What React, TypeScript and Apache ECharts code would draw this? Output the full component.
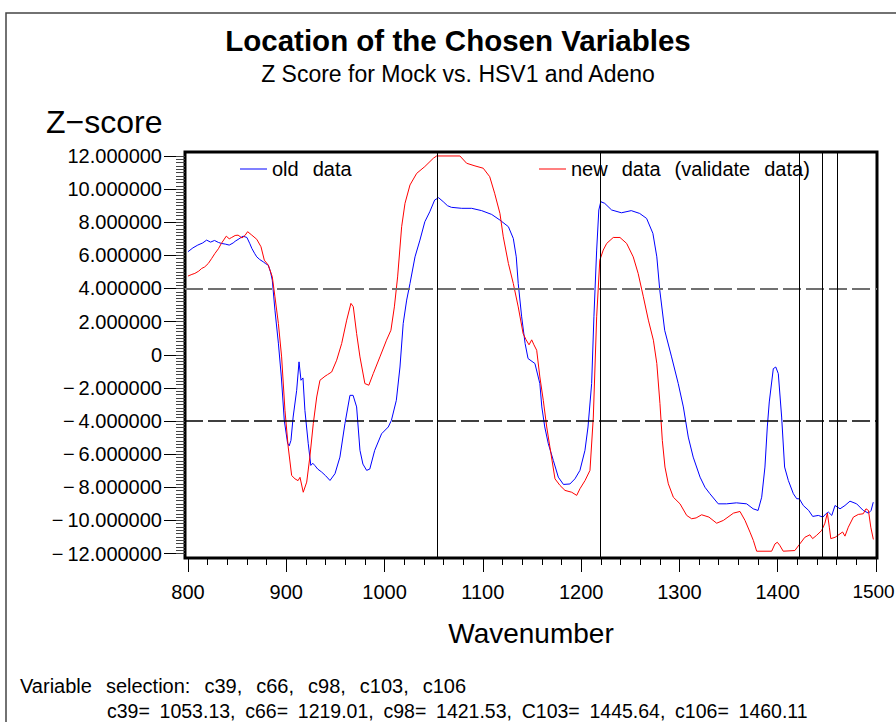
import React, { useEffect, useRef } from "react";
import * as echarts from "echarts";

// ---- data ----
const oldWave = [
  800, 805, 810, 815, 819, 823, 827, 831, 834, 838, 842, 846, 848, 852, 856, 860, 863, 865, 868, 870,
  873, 876.6, 879, 881.7, 884, 885.8, 888.5, 892, 895, 898, 901.4, 903, 904.8, 907, 910.6, 913, 915, 917,
  919, 922.4, 925, 927, 929, 932, 936, 940, 944.5, 949.6, 954.6, 959.7, 964.8, 968, 971.6, 975, 978,
  981.8, 985, 990, 997, 1003.8, 1007, 1012, 1015.7, 1019, 1022.5, 1025.9, 1031, 1036, 1041, 1046, 1051,
  1055, 1059.7, 1064, 1068, 1078.5, 1088.6, 1098.8, 1109, 1117.4, 1126, 1131, 1134, 1136, 1139.5, 1143,
  1146, 1153, 1158, 1160, 1163, 1166.6, 1171.7, 1176.8, 1182, 1188.6, 1193.7, 1198.8, 1203.9, 1207,
  1210.7, 1213, 1215.8, 1218, 1220, 1224, 1231, 1241, 1251, 1259.6, 1266.6, 1273, 1277, 1280, 1285, 1292,
  1298.8, 1304, 1309, 1314, 1321, 1326, 1331, 1339.5, 1348, 1358, 1368.4, 1375, 1380, 1383.7, 1387,
  1389.4, 1391.4, 1395.5, 1398, 1400.6, 1404, 1407, 1410.8, 1415.9, 1419.3, 1422, 1426, 1431.5, 1435.6,
  1441.3, 1446, 1449, 1451.6, 1455, 1458.3, 1463.4, 1468.4, 1473.5, 1480.3, 1487, 1492.3, 1495, 1497.2,
];
const oldZ = [
  6.22, 6.45, 6.62, 6.75, 6.92, 6.8, 6.9, 6.78, 6.72, 6.68, 6.62, 6.75, 6.85, 7.0, 7.16, 7.08, 6.7, 6.42, 6.1, 5.91,
  5.75, 5.61, 5.5, 5.41, 5.0, 4.5, 2.69, 0.7, -1.34, -3.96, -5.35, -5.5, -5.17, -3.76, -2.15, -0.43, -1.54, -1.4,
  -3.36, -5.37, -6.68, -6.55, -6.68, -6.9, -7.08, -7.3, -7.59, -7.18, -6.18, -4.16, -2.45, -2.45, -3.15, -5.77, -6.6,
  -6.98, -6.9, -5.77, -4.77, -4.36, -3.96, -2.75, -0.74, 1.89, 3.3, 4.3, 5.91, 6.92, 8.03, 8.63, 9.34,
  9.48, 9.24, 9.0, 8.9, 8.84, 8.84, 8.7, 8.47, 8.13, 7.73, 7.02, 5.91, 4.3, 2.29, 0.68,
  -0.23, -0.53, -1.74, -3.15, -4.36, -5.37, -6.38, -7.39, -7.83, -7.8, -7.49, -6.98, -5.77, -4.36,
  -1.74, 2.29, 6.32, 8.74, 9.24, 9.14, 8.74, 8.57, 8.7, 8.53, 8.23, 7.33, 5.91, 3.9, 1.48, -0.13,
  -1.74, -3.15, -4.97, -6.18, -7.39, -8.0, -8.39, -9.0, -9.0, -8.94, -9.0, -9.3, -9.4, -8.6, -6.78,
  -4.36, -2.85, -0.84, -0.74, -1.14, -3.76, -6.78, -7.59, -8.39, -8.69, -8.7, -9.1, -9.4, -9.76,
  -9.7, -9.8, -9.6, -9.5, -9.7, -9.1, -9.3, -9.1, -8.84, -9.0, -9.4, -9.56, -9.4, -8.9,
];
const newWave = [
  800, 804, 807, 811, 814, 817, 820.7, 824, 827.5, 831, 834, 839, 842, 844.5, 848, 851, 855, 858, 860.7,
  865, 870, 874.3, 877.7, 881.7, 885.8, 888.5, 892, 895.3, 898.7, 902, 905.5, 908.9, 912, 914, 917.3,
  920.8, 924, 927.5, 931, 934.3, 939.4, 942, 946.2, 951.3, 956.4, 961.5, 965.8, 968.2, 971.6, 975, 980,
  984, 988.5, 995.3, 1002, 1006.5, 1010, 1013.3, 1017.4, 1020.8, 1025.9, 1032.7, 1041, 1049.6, 1053,
  1076.7, 1083.5, 1092, 1100.4, 1107, 1112, 1117.4, 1120.8, 1126, 1131, 1136, 1141, 1144, 1147, 1149.7,
  1152, 1154.8, 1158, 1161.5, 1165, 1169.3, 1173.4, 1178.5, 1183.6, 1190.4, 1195.5, 1198.8, 1204, 1209,
  1212.4, 1215.8, 1219, 1222.5, 1226, 1232.7, 1239.5, 1246.3, 1253, 1258, 1263.3, 1268.4, 1273.5, 1277,
  1280.2, 1282.6, 1285.3, 1288.7, 1293.8, 1300.6, 1307.4, 1312.4, 1317, 1322.6, 1330, 1337.9, 1344.7,
  1355, 1361.6, 1366.7, 1371.8, 1375.2, 1378.6, 1393.8, 1397.2, 1399.6, 1402, 1405.6, 1417.4, 1422.5,
  1427.6, 1432.7, 1435.5, 1439.6, 1444.7, 1448, 1450.5, 1452.5, 1454, 1458.4, 1463.4, 1466, 1468.4,
  1471.8, 1477, 1482, 1487, 1489.8, 1492.3, 1494.7, 1497.3,
];
const newZ = [
  4.75, 4.85, 4.91, 5.05, 5.21, 5.3, 5.51, 5.8, 6.12, 6.4, 6.72, 7.16, 7.0, 7.08, 7.2, 7.22, 7.05, 7.2, 7.43,
  7.22, 6.97, 6.52, 5.71, 5.41, 4.71, 3.5, 1.89, -0.13, -3.36, -5.57, -7.29, -7.49, -7.6, -7.4, -8.3,
  -7.69, -6.18, -4.16, -2.55, -1.54, -1.3, -1.2, -1.04, -0.33, 0.68, 2.09, 3.1, 2.9, 1.28, -0.13, -1.74,
  -1.84, -1.14, -0.13, 0.88, 1.48, 2.89, 4.7, 7.73, 9.14, 10.25, 10.95, 11.36, 11.86, 12,
  12, 11.56, 11.4, 11.26, 10.75, 9.75, 8.53, 7.12, 5.51, 4.3, 2.89, 1.28, 0.9, 0.6, 0.9,
  0.6, 0.27, -1.34, -2.75, -4.36, -5.97, -7.49, -7.89, -8.19, -8.3, -8.49, -8.09, -7.59, -6.98,
  -3.76, 2.29, 5.71, 6.32, 6.72, 7.08, 7.08, 6.72, 5.91, 4.91, 3.5, 2.09, 0.88, -0.53,
  -2.95, -5.17, -6.78, -7.79, -8.6, -9.0, -9.7, -9.9, -9.85, -9.66, -9.8, -10.17, -10.0,
  -9.56, -9.46, -10.0, -10.71, -11.21, -11.86, -11.86, -11.42, -11.32, -11.5, -11.86, -11.82, -11.42,
  -11.02, -10.87, -11.1, -10.9, -10.61, -10.17, -9.56, -10.41, -11.1, -11.02, -10.81, -10.7, -10.95,
  -10.41, -9.8, -9.64, -9.6, -9.3, -9.4, -10.41, -11.15,
];
const selectedWave = [1053.13, 1219.01, 1421.53, 1445.64, 1460.11];
const thresholds = [4, -4];
const xMajorTicks = [800, 900, 1000, 1100, 1200, 1300, 1400, 1500];
const yMajorTicks = [-12, -10, -8, -6, -4, -2, 0, 2, 4, 6, 8, 10, 12];

const FONT = "Liberation Sans, Arial, sans-serif";
const WSP = "\u2002\u2009";

export default function App() {
  const ref = useRef<HTMLDivElement>(null);
  useEffect(() => {
    if (!ref.current) return;
    const chart = echarts.init(ref.current, null, { renderer: "svg" });

    const xMinor: number[] = [];
    for (let v = 800; v <= 1500; v += 20) xMinor.push(v);
    const yMinor: number[] = [];
    for (let i = -60; i <= 60; i++) yMinor.push(Math.round(i * 20) / 100);

    const xMin = 797, xMax = 1501, yMin = -12.27, yMax = 12.24;
    const lastX = xMajorTicks[xMajorTicks.length - 1];

    const yFmt = (v: number) =>
      Math.abs(v) < 1e-9 ? "0" : (v < 0 ? "\u2212\u2009" : "") + Math.abs(v).toFixed(6);

    const legendCommon = {
      top: 159,
      icon: "rect",
      itemWidth: 27,
      itemHeight: 1,
      padding: 0,
      selectedMode: false,
      textStyle: { fontSize: 20, fontFamily: FONT, color: "#000" },
      formatter: (n: string) => n.replace(/ /g, WSP),
    };

    chart.setOption({
      animation: false,
      backgroundColor: "#fff",
      textStyle: { fontFamily: FONT },
      grid: {
        left: 185,
        top: 152,
        width: 692,
        height: 406,
        show: true,
        borderColor: "#000",
        borderWidth: 3,
        backgroundColor: "transparent",
        containLabel: false,
        outerBoundsMode: "none",
      },
      legend: [
        { ...legendCommon, left: 240, data: ["old data"] },
        { ...legendCommon, left: 539, data: ["new data (validate data)"] },
      ],
      xAxis: [
        {
          type: "value",
          min: xMin,
          max: xMax,
          position: "bottom",
          axisLine: { show: false, onZero: false },
          splitLine: { show: false },
          axisTick: { show: true, customValues: xMajorTicks, length: 14, lineStyle: { color: "#000", width: 1 } },
          axisLabel: {
            customValues: xMajorTicks,
            margin: 24,
            fontSize: 20,
            fontFamily: FONT,
            color: "#000",
            formatter: (v: number) => (v === lastX ? `{e|${v}}` : String(v)),
            rich: {
              e: { fontSize: 19, fontFamily: FONT, color: "#000", padding: [0, 5, 0, 0] },
            },
          },
          name: "Wavenumber",
          nameLocation: "middle",
          nameGap: 61,
          nameTextStyle: { fontSize: 28, fontFamily: FONT, color: "#000" },
        },
        {
          type: "value",
          min: xMin,
          max: xMax,
          position: "bottom",
          axisLine: { show: false, onZero: false },
          splitLine: { show: false },
          axisLabel: { show: false },
          axisTick: { show: true, customValues: xMinor, length: 7, lineStyle: { color: "#000", width: 1 } },
        },
      ],
      yAxis: [
        {
          type: "value",
          min: yMin,
          max: yMax,
          position: "left",
          axisLine: { show: false, onZero: false },
          splitLine: { show: false },
          axisTick: { show: true, customValues: yMajorTicks, length: 21, lineStyle: { color: "#000", width: 1 } },
          axisLabel: {
            customValues: yMajorTicks,
            margin: 23,
            fontSize: 20,
            fontFamily: FONT,
            color: "#000",
            formatter: yFmt,
          },
        },
        {
          type: "value",
          min: yMin,
          max: yMax,
          position: "left",
          axisLine: { show: false, onZero: false },
          splitLine: { show: false },
          axisLabel: { show: false },
          axisTick: { show: true, customValues: yMinor, length: 9, lineStyle: { color: "#444", width: 1 } },
        },
      ],
      series: [
        {
          name: "old data",
          type: "line",
          xAxisIndex: 0,
          yAxisIndex: 0,
          data: oldWave.map((w, i) => [w, oldZ[i]]),
          symbol: "none",
          showSymbol: false,
          lineStyle: { color: "#0000ff", width: 1 },
          itemStyle: { color: "#0000ff" },
          markLine: {
            silent: true,
            symbol: ["none", "none"],
            label: { show: false },
            data: [
              ...thresholds.map((t, i) => ({
                yAxis: t,
                lineStyle: { color: i === 0 ? "#707070" : "#000", type: [18, 5], width: i === 0 ? 2 : 1.5 },
              })),
              ...selectedWave.map((w) => ({
                xAxis: w,
                lineStyle: { color: "#000", type: "solid", width: 1 },
              })),
            ],
          },
        },
        {
          name: "new data (validate data)",
          type: "line",
          xAxisIndex: 0,
          yAxisIndex: 0,
          data: newWave.map((w, i) => [w, newZ[i]]),
          symbol: "none",
          showSymbol: false,
          lineStyle: { color: "#ff0000", width: 1 },
          itemStyle: { color: "#ff0000" },
        },
      ],
      graphic: [
        {
          type: "polyline",
          shape: { points: [[6, 722], [6, 13], [896, 13]] },
          style: { stroke: "#444", lineWidth: 1.5, fill: "none" },
          silent: true,
        },
        {
          type: "text",
          x: 458,
          y: 40,
          style: {
            text: "Location of the Chosen Variables",
            font: `bold 29.5px ${FONT}`,
            fill: "#000",
            textAlign: "center",
            textVerticalAlign: "middle",
          },
        },
        {
          type: "text",
          x: 458,
          y: 74,
          style: {
            text: "Z Score for Mock vs. HSV1 and Adeno",
            font: `23px ${FONT}`,
            fill: "#000",
            textAlign: "center",
            textVerticalAlign: "middle",
          },
        },
        {
          type: "text",
          x: 46,
          y: 122,
          style: {
            text: "Z\u2212score",
            font: `32px ${FONT}`,
            fill: "#000",
            textAlign: "left",
            textVerticalAlign: "middle",
          },
        },
        {
          type: "text",
          x: 20,
          y: 686,
          style: {
            text: "Variable selection: c39, c66, c98, c103, c106".replace(/ /g, WSP),
            font: `20px ${FONT}`,
            fill: "#000",
            textAlign: "left",
            textVerticalAlign: "middle",
          },
        },
        {
          type: "text",
          x: 107,
          y: 711,
          style: {
            text: "c39= 1053.13, c66= 1219.01, c98= 1421.53, C103= 1445.64, c106= 1460.11".replace(/ /g, "\u2002"),
            font: `19.5px ${FONT}`,
            fill: "#000",
            textAlign: "left",
            textVerticalAlign: "middle",
          },
        },
      ],
    });
    return () => chart.dispose();
  }, []);

  return (
    <div
      ref={ref}
      style={{ position: "fixed", left: 0, top: 0, width: 896, height: 722, background: "#fff" }}
    />
  );
}
